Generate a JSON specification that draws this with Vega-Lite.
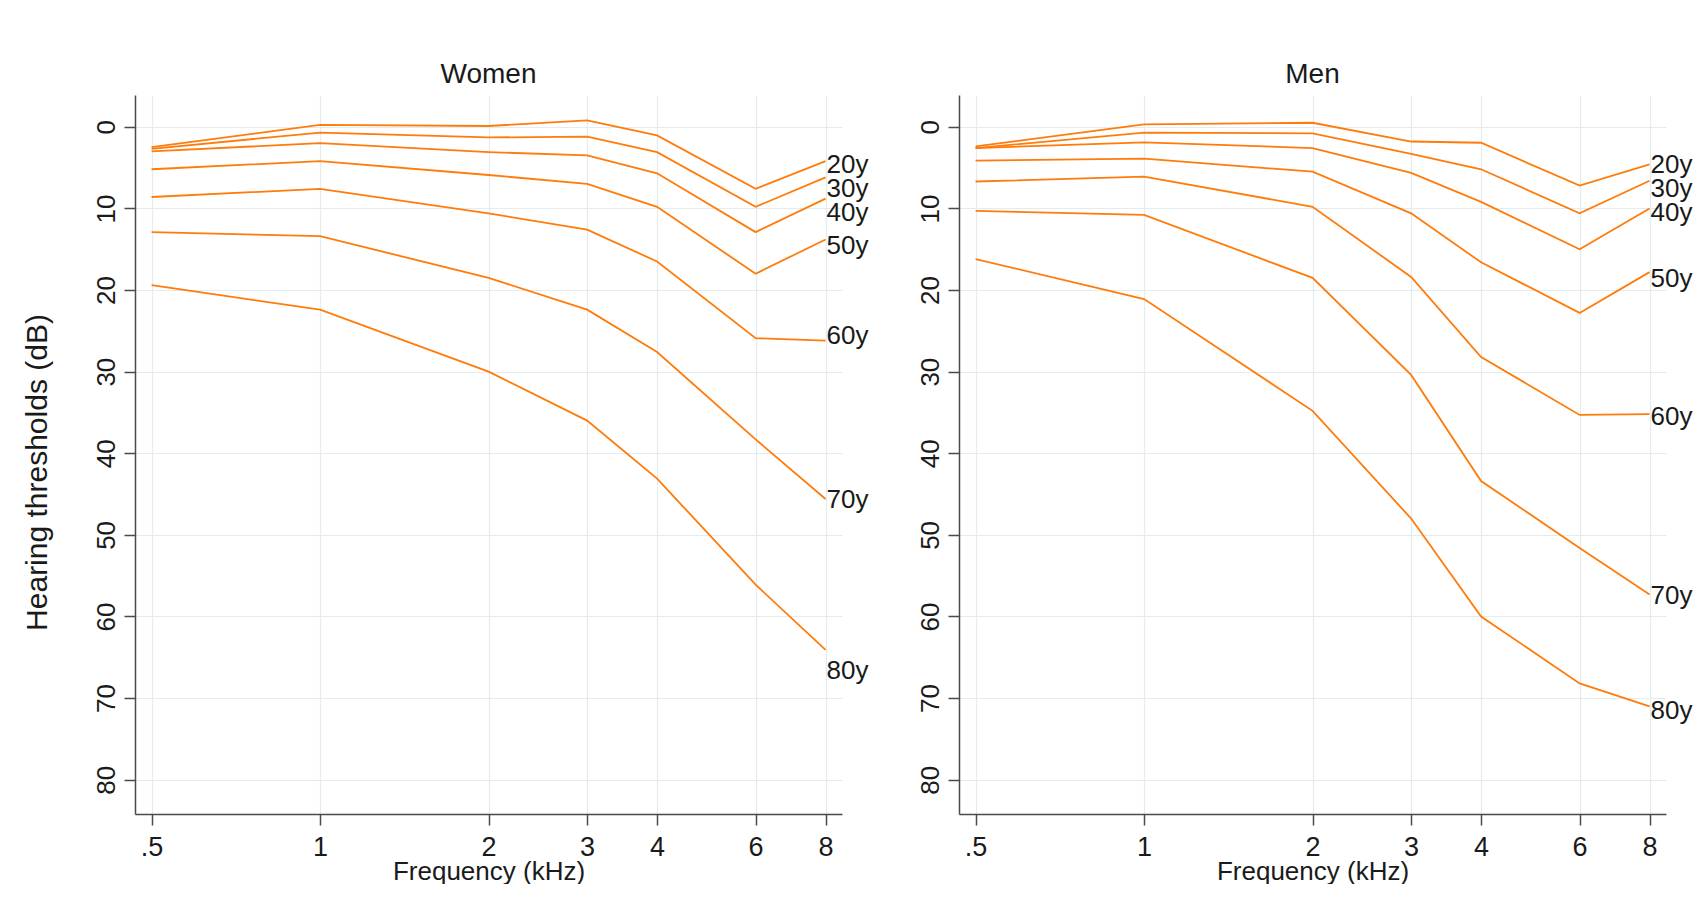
{
  "$schema": "https://vega.github.io/schema/vega-lite/v6.json",
  "padding": {"left": 22, "top": 61, "right": 0, "bottom": 0},
  "background": "white",
  "datasets": {
    "lines": [
      {"sex": "Women", "age": "20y", "freq": 0.5, "db": 2.5},
      {"sex": "Women", "age": "20y", "freq": 1, "db": -0.25},
      {"sex": "Women", "age": "20y", "freq": 2, "db": -0.1},
      {"sex": "Women", "age": "20y", "freq": 3, "db": -0.8},
      {"sex": "Women", "age": "20y", "freq": 4, "db": 1.05},
      {"sex": "Women", "age": "20y", "freq": 6, "db": 7.6},
      {"sex": "Women", "age": "20y", "freq": 8, "db": 4.2},
      {"sex": "Women", "age": "30y", "freq": 0.5, "db": 2.7},
      {"sex": "Women", "age": "30y", "freq": 1, "db": 0.7},
      {"sex": "Women", "age": "30y", "freq": 2, "db": 1.3},
      {"sex": "Women", "age": "30y", "freq": 3, "db": 1.2},
      {"sex": "Women", "age": "30y", "freq": 4, "db": 3.1},
      {"sex": "Women", "age": "30y", "freq": 6, "db": 9.8},
      {"sex": "Women", "age": "30y", "freq": 8, "db": 6.2},
      {"sex": "Women", "age": "40y", "freq": 0.5, "db": 3.0},
      {"sex": "Women", "age": "40y", "freq": 1, "db": 2.0},
      {"sex": "Women", "age": "40y", "freq": 2, "db": 3.1},
      {"sex": "Women", "age": "40y", "freq": 3, "db": 3.5},
      {"sex": "Women", "age": "40y", "freq": 4, "db": 5.7},
      {"sex": "Women", "age": "40y", "freq": 6, "db": 12.9},
      {"sex": "Women", "age": "40y", "freq": 8, "db": 8.8},
      {"sex": "Women", "age": "50y", "freq": 0.5, "db": 5.2},
      {"sex": "Women", "age": "50y", "freq": 1, "db": 4.2},
      {"sex": "Women", "age": "50y", "freq": 2, "db": 5.9},
      {"sex": "Women", "age": "50y", "freq": 3, "db": 7.0},
      {"sex": "Women", "age": "50y", "freq": 4, "db": 9.8},
      {"sex": "Women", "age": "50y", "freq": 6, "db": 18.0},
      {"sex": "Women", "age": "50y", "freq": 8, "db": 13.8},
      {"sex": "Women", "age": "60y", "freq": 0.5, "db": 8.6},
      {"sex": "Women", "age": "60y", "freq": 1, "db": 7.6},
      {"sex": "Women", "age": "60y", "freq": 2, "db": 10.6},
      {"sex": "Women", "age": "60y", "freq": 3, "db": 12.6},
      {"sex": "Women", "age": "60y", "freq": 4, "db": 16.5},
      {"sex": "Women", "age": "60y", "freq": 6, "db": 25.9},
      {"sex": "Women", "age": "60y", "freq": 8, "db": 26.2},
      {"sex": "Women", "age": "70y", "freq": 0.5, "db": 12.9},
      {"sex": "Women", "age": "70y", "freq": 1, "db": 13.4},
      {"sex": "Women", "age": "70y", "freq": 2, "db": 18.5},
      {"sex": "Women", "age": "70y", "freq": 3, "db": 22.4},
      {"sex": "Women", "age": "70y", "freq": 4, "db": 27.6},
      {"sex": "Women", "age": "70y", "freq": 6, "db": 38.3},
      {"sex": "Women", "age": "70y", "freq": 8, "db": 45.6},
      {"sex": "Women", "age": "80y", "freq": 0.5, "db": 19.4},
      {"sex": "Women", "age": "80y", "freq": 1, "db": 22.4},
      {"sex": "Women", "age": "80y", "freq": 2, "db": 30.0},
      {"sex": "Women", "age": "80y", "freq": 3, "db": 36.0},
      {"sex": "Women", "age": "80y", "freq": 4, "db": 43.1},
      {"sex": "Women", "age": "80y", "freq": 6, "db": 56.1},
      {"sex": "Women", "age": "80y", "freq": 8, "db": 64.1},
      {"sex": "Men", "age": "20y", "freq": 0.5, "db": 2.4},
      {"sex": "Men", "age": "20y", "freq": 1, "db": -0.3},
      {"sex": "Men", "age": "20y", "freq": 2, "db": -0.5},
      {"sex": "Men", "age": "20y", "freq": 3, "db": 1.8},
      {"sex": "Men", "age": "20y", "freq": 4, "db": 1.95},
      {"sex": "Men", "age": "20y", "freq": 6, "db": 7.2},
      {"sex": "Men", "age": "20y", "freq": 8, "db": 4.6},
      {"sex": "Men", "age": "30y", "freq": 0.5, "db": 2.6},
      {"sex": "Men", "age": "30y", "freq": 1, "db": 0.7},
      {"sex": "Men", "age": "30y", "freq": 2, "db": 0.8},
      {"sex": "Men", "age": "30y", "freq": 3, "db": 3.3},
      {"sex": "Men", "age": "30y", "freq": 4, "db": 5.2},
      {"sex": "Men", "age": "30y", "freq": 6, "db": 10.6},
      {"sex": "Men", "age": "30y", "freq": 8, "db": 6.6},
      {"sex": "Men", "age": "40y", "freq": 0.5, "db": 2.6},
      {"sex": "Men", "age": "40y", "freq": 1, "db": 1.9},
      {"sex": "Men", "age": "40y", "freq": 2, "db": 2.6},
      {"sex": "Men", "age": "40y", "freq": 3, "db": 5.65},
      {"sex": "Men", "age": "40y", "freq": 4, "db": 9.2},
      {"sex": "Men", "age": "40y", "freq": 6, "db": 15.0},
      {"sex": "Men", "age": "40y", "freq": 8, "db": 10.0},
      {"sex": "Men", "age": "50y", "freq": 0.5, "db": 4.15},
      {"sex": "Men", "age": "50y", "freq": 1, "db": 3.9},
      {"sex": "Men", "age": "50y", "freq": 2, "db": 5.5},
      {"sex": "Men", "age": "50y", "freq": 3, "db": 10.6},
      {"sex": "Men", "age": "50y", "freq": 4, "db": 16.6},
      {"sex": "Men", "age": "50y", "freq": 6, "db": 22.8},
      {"sex": "Men", "age": "50y", "freq": 8, "db": 17.8},
      {"sex": "Men", "age": "60y", "freq": 0.5, "db": 6.7},
      {"sex": "Men", "age": "60y", "freq": 1, "db": 6.1},
      {"sex": "Men", "age": "60y", "freq": 2, "db": 9.8},
      {"sex": "Men", "age": "60y", "freq": 3, "db": 18.4},
      {"sex": "Men", "age": "60y", "freq": 4, "db": 28.2},
      {"sex": "Men", "age": "60y", "freq": 6, "db": 35.3},
      {"sex": "Men", "age": "60y", "freq": 8, "db": 35.2},
      {"sex": "Men", "age": "70y", "freq": 0.5, "db": 10.3},
      {"sex": "Men", "age": "70y", "freq": 1, "db": 10.8},
      {"sex": "Men", "age": "70y", "freq": 2, "db": 18.5},
      {"sex": "Men", "age": "70y", "freq": 3, "db": 30.4},
      {"sex": "Men", "age": "70y", "freq": 4, "db": 43.4},
      {"sex": "Men", "age": "70y", "freq": 6, "db": 51.6},
      {"sex": "Men", "age": "70y", "freq": 8, "db": 57.3},
      {"sex": "Men", "age": "80y", "freq": 0.5, "db": 16.2},
      {"sex": "Men", "age": "80y", "freq": 1, "db": 21.1},
      {"sex": "Men", "age": "80y", "freq": 2, "db": 34.8},
      {"sex": "Men", "age": "80y", "freq": 3, "db": 48.0},
      {"sex": "Men", "age": "80y", "freq": 4, "db": 60.0},
      {"sex": "Men", "age": "80y", "freq": 6, "db": 68.2},
      {"sex": "Men", "age": "80y", "freq": 8, "db": 71.0}
    ],
    "labels": [
      {"sex": "Women", "age": "20y", "freq": 8, "db": 4.65},
      {"sex": "Women", "age": "30y", "freq": 8, "db": 7.57},
      {"sex": "Women", "age": "40y", "freq": 8, "db": 10.5},
      {"sex": "Women", "age": "50y", "freq": 8, "db": 14.6},
      {"sex": "Women", "age": "60y", "freq": 8, "db": 25.6},
      {"sex": "Women", "age": "70y", "freq": 8, "db": 45.7},
      {"sex": "Women", "age": "80y", "freq": 8, "db": 66.7},
      {"sex": "Men", "age": "20y", "freq": 8, "db": 4.65},
      {"sex": "Men", "age": "30y", "freq": 8, "db": 7.57},
      {"sex": "Men", "age": "40y", "freq": 8, "db": 10.6},
      {"sex": "Men", "age": "50y", "freq": 8, "db": 18.6},
      {"sex": "Men", "age": "60y", "freq": 8, "db": 35.6},
      {"sex": "Men", "age": "70y", "freq": 8, "db": 57.5},
      {"sex": "Men", "age": "80y", "freq": 8, "db": 71.6}
    ]
  },
  "spacing": 48,
  "hconcat": [
    {
      "width": 707,
      "height": 719,
      "title": {"text": "Women"},
      "layer": [
        {
          "data": {"name": "lines"},
          "transform": [{"filter": "datum.sex == 'Women'"}],
          "mark": {"type": "line", "color": "#ff7b0a", "strokeWidth": 1.8},
          "encoding": {
            "x": {"field": "freq", "type": "quantitative",
              "scale": {"type": "log", "domain": [0.467, 8.56], "nice": false},
              "axis": {"values": [0.5, 1, 2, 3, 4, 6, 8], "labelExpr": "datum.value == 0.5 ? '.5' : format(datum.value, 'd')", "title": "Frequency (kHz)"}},
            "y": {"field": "db", "type": "quantitative",
              "scale": {"domain": [-3.9, 84.2], "reverse": true, "nice": false, "zero": false},
              "axis": {"values": [0, 10, 20, 30, 40, 50, 60, 70, 80], "title": "Hearing thresholds (dB)", "titleY": 377}},
            "detail": {"field": "age"}
          }
        },
        {
          "data": {"name": "labels"},
          "transform": [{"filter": "datum.sex == 'Women'"}],
          "mark": {"type": "text", "align": "left", "baseline": "middle", "dx": 1, "fontSize": 26, "color": "#1a1a1a"},
          "encoding": {
            "x": {"field": "freq", "type": "quantitative"},
            "y": {"field": "db", "type": "quantitative"},
            "text": {"field": "age"}
          }
        }
      ]
    },
    {
      "width": 707,
      "height": 719,
      "title": {"text": "Men"},
      "layer": [
        {
          "data": {"name": "lines"},
          "transform": [{"filter": "datum.sex == 'Men'"}],
          "mark": {"type": "line", "color": "#ff7b0a", "strokeWidth": 1.8},
          "encoding": {
            "x": {"field": "freq", "type": "quantitative",
              "scale": {"type": "log", "domain": [0.467, 8.56], "nice": false},
              "axis": {"values": [0.5, 1, 2, 3, 4, 6, 8], "labelExpr": "datum.value == 0.5 ? '.5' : format(datum.value, 'd')", "title": "Frequency (kHz)"}},
            "y": {"field": "db", "type": "quantitative",
              "scale": {"domain": [-3.9, 84.2], "reverse": true, "nice": false, "zero": false},
              "axis": {"values": [0, 10, 20, 30, 40, 50, 60, 70, 80], "title": null}},
            "detail": {"field": "age"}
          }
        },
        {
          "data": {"name": "labels"},
          "transform": [{"filter": "datum.sex == 'Men'"}],
          "mark": {"type": "text", "align": "left", "baseline": "middle", "dx": 1, "fontSize": 26, "color": "#1a1a1a"},
          "encoding": {
            "x": {"field": "freq", "type": "quantitative"},
            "y": {"field": "db", "type": "quantitative"},
            "text": {"field": "age"}
          }
        }
      ]
    }
  ],
  "config": {
    "font": "Liberation Sans",
    "view": {"stroke": null},
    "title": {"fontSize": 28, "fontWeight": "normal", "color": "#1a1a1a", "offset": 6, "anchor": "middle"},
    "axis": {
      "gridColor": "#e3ecef",
      "gridWidth": 1.2,
      "domainColor": "#4a4a4a",
      "domainWidth": 1.5,
      "tickColor": "#4a4a4a",
      "tickWidth": 1.5,
      "tickSize": 11,
      "labelColor": "#1a1a1a",
      "titleColor": "#1a1a1a",
      "titleFontWeight": "normal",
      "labelFont": "Liberation Sans",
      "titleFont": "Liberation Sans"
    },
    "axisX": {"labelFontSize": 27, "titleFontSize": 26, "labelPadding": 9, "titlePadding": -2},
    "axisY": {"labelFontSize": 26, "titleFontSize": 30, "labelAngle": -90, "labelPadding": 5, "titlePadding": 41}
  }
}
